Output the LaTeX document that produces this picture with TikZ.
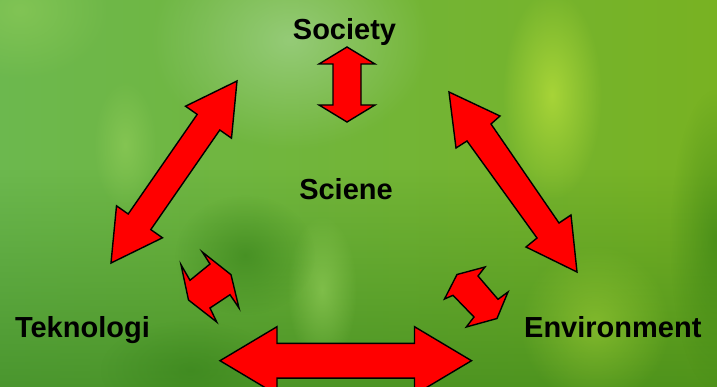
\documentclass[tikz,border=0pt]{standalone}
\usepackage{fontspec}
\setmainfont{Liberation Sans}
\usetikzlibrary{fadings}
\tikzfading[name=softblob, inner color=transparent!0, outer color=transparent!100]
\definecolor{bgleft}{HTML}{6CB84E}
\definecolor{bgmid}{HTML}{86C468}
\definecolor{bgright}{HTML}{78B222}
\definecolor{bgdark}{HTML}{2E7A14}
\definecolor{bokehpale}{HTML}{A4D490}
\definecolor{bokehyellow}{HTML}{B0DA3A}
\definecolor{bokehgreen}{HTML}{96D05C}
\definecolor{arrowred}{HTML}{FF0000}
\begin{document}
\begin{tikzpicture}[x=1pt,y=-1pt,
  dblarrow/.style={draw=black, fill=arrowred, line width=1.4pt, line join=miter},
  txt/.style={font=\fontsize{29}{34}\selectfont\bfseries, anchor=base, inner sep=0pt, text=black},
  blob/.style={path fading=softblob}]
\useasboundingbox (0,0) rectangle (717,387);
\begin{scope}
\clip (0,0) rectangle (717,387);
% background
\shade[left color=bgleft, middle color=bgmid, right color=bgright] (0,0) rectangle (717,387);
\fill[bgdark, path fading=north, fill opacity=0.55] (0,170) rectangle (717,387);
\fill[bokehgreen, blob, fill opacity=0.5] (20,10) ellipse [x radius=90pt, y radius=70pt];
\fill[bokehpale, blob, fill opacity=0.7] (290,40) ellipse [x radius=140pt, y radius=110pt];
\fill[bokehyellow, blob, fill opacity=0.85] (552,95) ellipse [x radius=50pt, y radius=105pt];
\fill[bokehgreen, blob, fill opacity=0.55] (125,145) ellipse [x radius=32pt, y radius=65pt];
\fill[bokehgreen, blob, fill opacity=0.6] (322,290) ellipse [x radius=35pt, y radius=75pt];
\fill[bokehyellow, blob, fill opacity=0.45] (595,325) ellipse [x radius=75pt, y radius=80pt];
\fill[bgdark, blob, fill opacity=0.5] (245,255) ellipse [x radius=70pt, y radius=60pt];
\fill[bgdark, blob, fill opacity=0.5] (715,240) ellipse [x radius=45pt, y radius=150pt];
\fill[bgdark, blob, fill opacity=0.4] (190,370) ellipse [x radius=90pt, y radius=50pt];

% big arrows
\draw[dblarrow] (237,81) -- (231.5,138.2) -- (219.8,130) -- (150.8,229.6) -- (162.5,237.8)
  -- (111,263) -- (116.5,205.8) -- (128.2,214) -- (197.2,114.4) -- (185.5,106.2) -- cycle;
\draw[dblarrow] (449,92) -- (500,116) -- (491,124) -- (559,223) -- (571,215)
  -- (577,272) -- (526,247) -- (537,238) -- (467,141) -- (456,148) -- cycle;
\draw[dblarrow] (220,360.7) -- (277,326.7) -- (277,343.3) -- (414.5,343.3) -- (414.5,326.7)
  -- (471.5,360.7) -- (414.5,394.7) -- (414.5,378.1) -- (277,378.1) -- (277,394.7) -- cycle;
% small arrows
\draw[dblarrow] (347,47) -- (375,64) -- (361,64) -- (361,105) -- (375,105)
  -- (347,122) -- (319,105) -- (333,105) -- (333,64) -- (319,64) -- cycle;
\draw[dblarrow] (231,274.7) -- (239,308) -- (230,294.7) -- (210,308) -- (216.7,322)
  -- (188.5,300) -- (181,264.7) -- (190,280.3) -- (210,264) -- (202.3,252) -- cycle;
\draw[dblarrow] (457,274.5) -- (485,267) -- (478,276) -- (498,299.3) -- (508,292)
  -- (497,318.5) -- (466.3,327) -- (474,317) -- (453,295.3) -- (444.5,299) -- cycle;
\end{scope}
% labels
\node[txt] (society) at (344.5,39.5) {Society};
\node[txt] (sciene) at (346,200) {Sciene};
\node[txt] (tek) at (82.4,337) {Teknologi};
\node[txt] (env) at (612.8,337) {Environment};
\end{tikzpicture}
\end{document}
